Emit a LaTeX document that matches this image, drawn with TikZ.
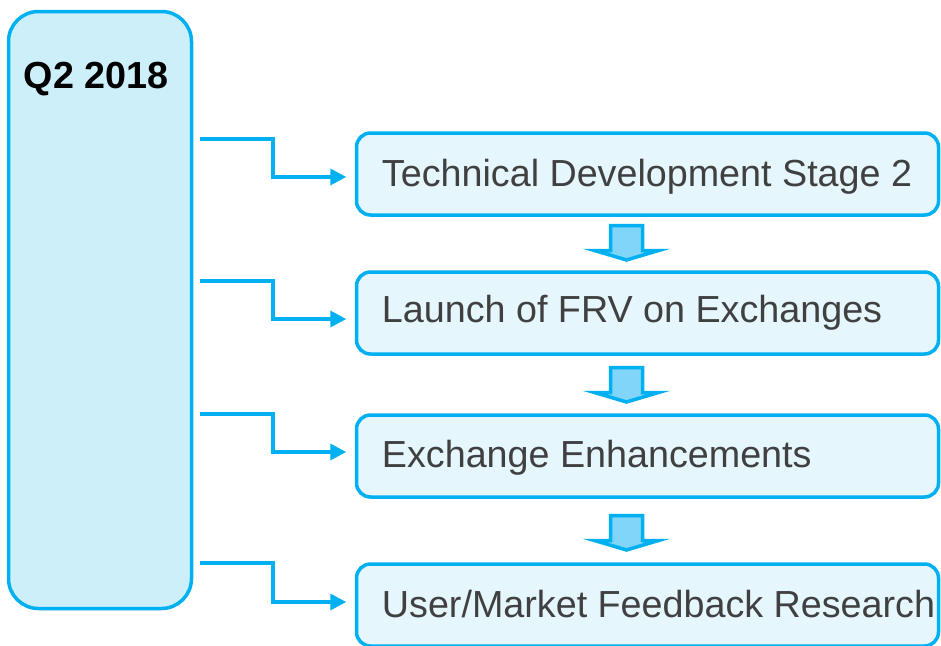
\documentclass[tikz,border=0pt]{standalone}
\usepackage{fontspec}
\setmainfont{Liberation Sans}
\usetikzlibrary{arrows.meta,positioning,calc}
\definecolor{frvline}{HTML}{00B0F0}
\definecolor{periodfill}{HTML}{CCEFFA}
\definecolor{stagefill}{HTML}{E5F6FD}
\definecolor{arrowfill}{HTML}{80D5F8}
\definecolor{stagegray}{HTML}{404040}
\def\StageFont{\fontsize{37.7}{45}\selectfont}

\begin{document}
\begin{tikzpicture}[x=1pt,y=-1pt,
	periodbox/.style={draw=frvline,line width=3.5pt,fill=periodfill,rounded corners=30pt,
		minimum width=183pt,minimum height=597pt,inner sep=0pt},
	periodtitle/.style={font=\StageFont\bfseries,text=black,inner sep=0pt,anchor=base},
	stagebox/.style={draw=frvline,line width=3.5pt,fill=stagefill,rounded corners=14pt,
		minimum width=582pt,minimum height=82pt,inner sep=0pt},
	stagetext/.style={font=\StageFont,text=stagegray,inner sep=0pt,anchor=base west},
	timeline/.style={draw=frvline,line width=3.5pt,-{Triangle[length=16pt,width=16pt]}},
	stagearrow/.style={draw=frvline,line width=3.5pt,fill=arrowfill,line join=miter}]
	\useasboundingbox (0,0) rectangle (941,645);
	% period on the left
	\node[periodbox] (q2) at (100,310) {};
	\node[periodtitle] (q2title) at ([xshift=-4pt,yshift=-79pt]q2.north) {Q2 2018};
	% stages
	\node[stagebox] (tech) at (647.5,174) {};
	\node[stagebox] (launch) at (647.5,313) {};
	\node[stagebox] (exch) at (647.5,456) {};
	\node[stagebox] (user) at (647.5,605) {};
	\node[stagetext] (techtext) at ([xshift=27pt,yshift=-12pt]tech.west) {Technical Development Stage 2};
	\node[stagetext] (launchtext) at ([xshift=27pt,yshift=-9pt]launch.west) {Launch of FRV on Exchanges};
	\node[stagetext] (exchtext) at ([xshift=27pt,yshift=-11pt]exch.west) {Exchange Enhancements};
	\node[stagetext] (usertext) at ([xshift=27pt,yshift=-12pt]user.west) {User/Market Feedback Research};
	% links from the period to each stage
	\foreach \stage/\y/\dy in {tech/139/-3,launch/281/-6,exch/414/4,user/563/3}
		\draw[timeline,shorten <=6.5pt] (q2.east |- 0,\y) -- (273,\y) |- ([xshift=-8.5pt,yshift=\dy pt]\stage.west);
	% block arrows between the stages
	\foreach \y in {225.5,367.5,515.5}
		\draw[stagearrow] (610.5,\y) -- ++(32,0) -- ++(0,25) -- ++(16,0) -- ++(-32,9.5) -- ++(-32,-9.5) -- ++(16,0) -- cycle;
\end{tikzpicture}
\end{document}
